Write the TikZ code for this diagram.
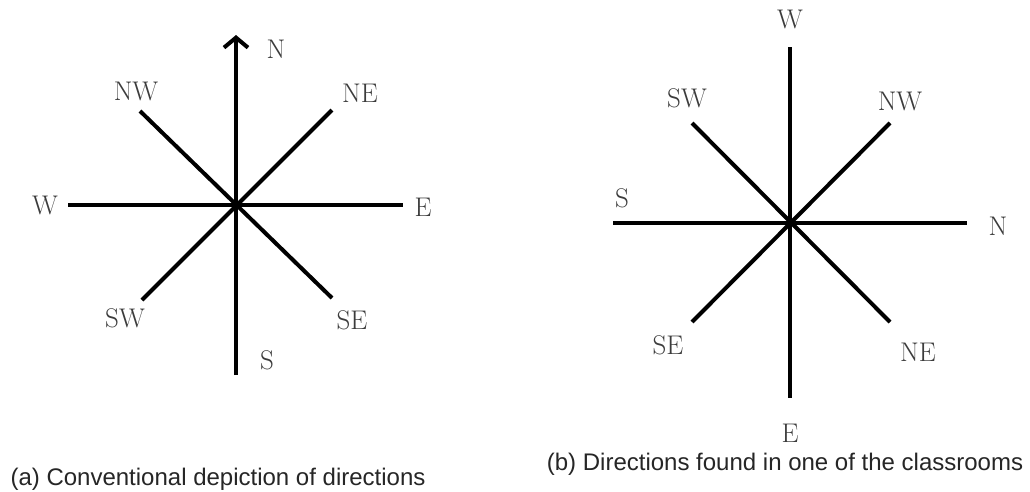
\documentclass[tikz,border=0pt]{standalone}
\usepackage{fontspec}
\newfontfamily\capfont{Liberation Sans}
\usetikzlibrary{arrows.meta}
\definecolor{lbl}{HTML}{3C3C3C}
\tikzset{
  ray/.style={line width=4pt, black},
  dirlabel/.style={text=lbl, font=\fontsize{27}{27}\selectfont, inner sep=0pt, anchor=center},
  caption/.style={font=\capfont\fontsize{24}{24}\selectfont, anchor=base, inner sep=0pt, text=black!85},
  hub/.style={fill=black, circle, inner sep=0pt, minimum size=7pt}
}
\begin{document}
\begin{tikzpicture}[x=1pt,y=-1pt]
\useasboundingbox[fill=white] (0,0) rectangle (1030,491);
% ---------- (a) conventional ----------
\coordinate (ac) at (236,205);
\coordinate (aN) at (236,35);
\coordinate (aS) at (236,375);
\coordinate (aW) at (68,205);
\coordinate (aE) at (403,205);
\coordinate (aNW) at (140,111);
\coordinate (aNE) at (332,110);
\coordinate (aSW) at (142,300);
\coordinate (aSE) at (332,298);
\draw[ray, -{Straight Barb[length=10pt,width=24pt,line width=4pt]}] (aS) -- (aN);
\draw[ray] (aW) -- (aE);
\draw[ray] (aNW) -- (aSE);
\draw[ray] (aSW) -- (aNE);
\node[hub] (ahub) at (ac) {};
\node[dirlabel] (laN)  at (276,49)  {N};
\node[dirlabel] (laNW) at (136,91)  {NW};
\node[dirlabel] (laNE) at (360,93)  {NE};
\node[dirlabel] (laW)  at (45,205)  {W};
\node[dirlabel] (laE)  at (423,207) {E};
\node[dirlabel] (laSW) at (125,318) {SW};
\node[dirlabel] (laSE) at (352,320) {SE};
\node[dirlabel] (laS)  at (267,360) {S};
% ---------- (b) classroom ----------
\coordinate (bc) at (790,223);
\coordinate (bW) at (790,47);
\coordinate (bE) at (790,398);
\coordinate (bS) at (613,223);
\coordinate (bN) at (967,223);
\coordinate (bSW) at (692,123);
\coordinate (bNW) at (890,123);
\coordinate (bSE) at (692,322);
\coordinate (bNE) at (890,322);
\draw[ray] (bW) -- (bE);
\draw[ray] (bS) -- (bN);
\draw[ray] (bSW) -- (bNE);
\draw[ray] (bSE) -- (bNW);
\node[hub] (bhub) at (bc) {};
\node[dirlabel] (lbW)  at (790,19)  {W};
\node[dirlabel] (lbSW) at (687,98)  {SW};
\node[dirlabel] (lbNW) at (900,101) {NW};
\node[dirlabel] (lbS)  at (622,198) {S};
\node[dirlabel] (lbN)  at (998,226) {N};
\node[dirlabel] (lbSE) at (668,345) {SE};
\node[dirlabel] (lbNE) at (918,352) {NE};
\node[dirlabel] (lbE)  at (790,433) {E};
% ---------- captions ----------
\node[caption] (capa) at (218,485) {(a) Conventional depiction of directions};
\node[caption] (capb) at (785,470) {(b) Directions found in one of the classrooms};
\end{tikzpicture}
\end{document}
